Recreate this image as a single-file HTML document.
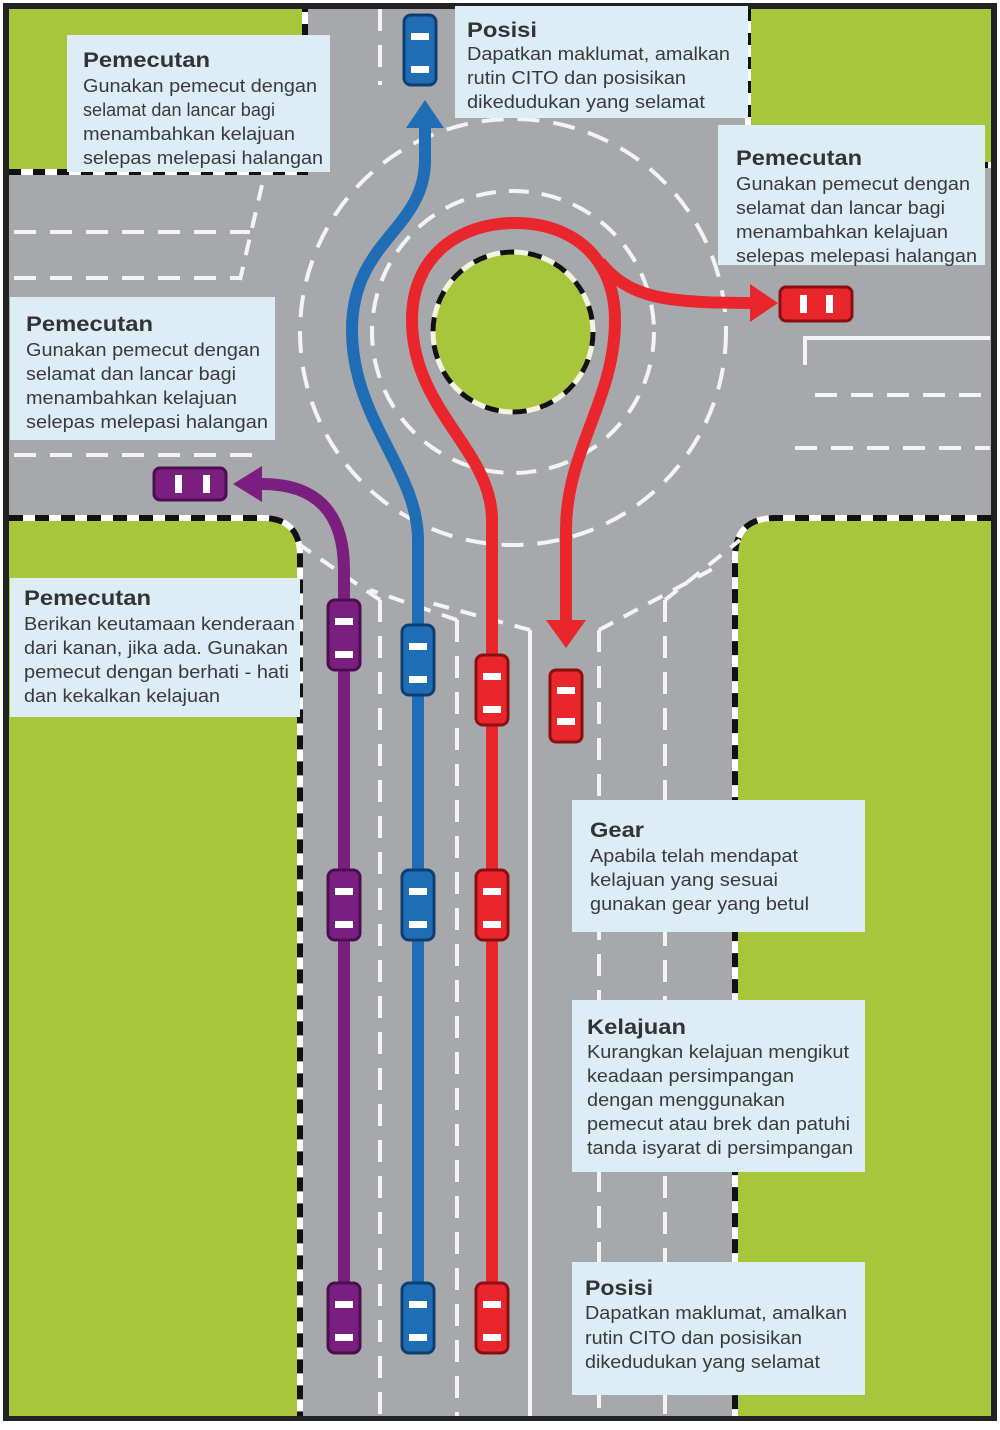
<!DOCTYPE html>
<html><head><meta charset="utf-8"><style>
html,body{margin:0;padding:0;background:#fff;}
svg{display:block;}
text{font-family:"Liberation Sans",sans-serif;fill:#3a3a3a;}
.h{font-weight:bold;font-size:21px;fill:#333;}
.b{font-size:18px;}
</style></head><body>
<svg width="1000" height="1430" viewBox="0 0 1000 1430" xmlns="http://www.w3.org/2000/svg">
<rect x="0" y="0" width="1000" height="1430" fill="#fff"/>
<rect x="3" y="3" width="994" height="1418" fill="#222"/>
<rect x="9" y="9" width="982" height="1407" fill="#a6a8ab"/>

<rect x="9" y="9" width="296" height="163" fill="#a8c63c"/>
<rect x="748" y="9" width="243" height="156" fill="#a8c63c"/>
<path d="M9 518 L262 518 Q300 518 300 556 L300 1416 L9 1416 Z" fill="#a8c63c"/>
<path d="M991 518 L775 518 Q735 518 735 558 L735 1416 L991 1416 Z" fill="#a8c63c"/>
<g fill="none" stroke-width="6">
 <path d="M9 172 L305 172 L305 9" stroke="#fff"/>
 <path d="M9 172 L305 172 L305 9" stroke="#111" stroke-dasharray="12 12"/>
 <path d="M9 518 L262 518 Q300 518 300 556 L300 1416" stroke="#fff"/>
 <path d="M9 518 L262 518 Q300 518 300 556 L300 1416" stroke="#111" stroke-dasharray="14 12"/>
 <path d="M991 518 L775 518 Q735 518 735 558 L735 1416" stroke="#fff"/>
 <path d="M991 518 L775 518 Q735 518 735 558 L735 1416" stroke="#111" stroke-dasharray="14 12"/>
 <path d="M748 9 L748 165 L991 165" stroke="#fff"/>
 <path d="M748 9 L748 165 L991 165" stroke="#111" stroke-dasharray="12 12"/>
</g>

<g fill="none" stroke="#f4f4f4" stroke-width="4">
 <circle cx="513" cy="332" r="141" stroke-dasharray="20 13"/>
 <circle cx="513" cy="332" r="213" stroke-dasharray="22 14"/>
 <path d="M14 232 L250 232" stroke-dasharray="22 14"/>
 <path d="M14 278 L240 278" stroke-dasharray="22 14"/>
 <path d="M14 455 L255 455" stroke-dasharray="22 14"/>
 <path d="M262 185 L240 280" stroke-dasharray="16 12"/>
 <path d="M815 395 L990 395" stroke-dasharray="22 14"/>
 <path d="M795 448 L990 448" stroke-dasharray="22 14"/>
 <path d="M805 365 L805 338 L990 338"/>
 <path d="M380 9 L380 85" stroke-dasharray="22 14"/>
 <path d="M380 600 L380 1416" stroke-dasharray="22 14"/>
 <path d="M457 620 L457 1416" stroke-dasharray="22 14"/>
 <path d="M530 630 L530 1416"/>
 <path d="M599 630 L599 1416" stroke-dasharray="22 14"/>
 <path d="M665 600 L665 1416" stroke-dasharray="22 14"/>
 <path d="M380 600 L300 545" stroke-dasharray="16 12"/>
 <path d="M457 620 L370 590" stroke-dasharray="16 12"/>
 <path d="M530 630 L420 600" stroke-dasharray="16 12"/>
 <path d="M599 630 L720 565" stroke-dasharray="16 12"/>
 <path d="M665 600 L740 540" stroke-dasharray="16 12"/>
</g>

<circle cx="513" cy="332" r="80" fill="#a8c63c"/>
<circle cx="513" cy="332" r="80" fill="none" stroke="#f4f4e0" stroke-width="5"/>
<circle cx="513" cy="332" r="80" fill="none" stroke="#111" stroke-width="5" stroke-dasharray="14 14"/>

<g fill="none" stroke-width="12">
 <path d="M344 1320 L344 570 Q344 484 262 484" stroke="#7a1f7f"/>
 <path d="M418 1320 L418 540 C418 470 352 420 352 330 C352 240 425 230 425 160 L425 120" stroke="#1e6db5"/>
 <path d="M492 1320 L492 520 C492 450 412 410 412 320 C412 255 460 223 515 223 C575 223 615 260 615 320 C615 400 566 450 566 530 L566 625" stroke="#e8262b"/>
 <path d="M600 262 C630 300 670 303 760 303" stroke="#e8262b"/>
</g>
<polygon points="233,484 262,466 262,502" fill="#7a1f7f"/>
<polygon points="425,100 406,128 444,128" fill="#1e6db5"/>
<polygon points="566,648 546,620 586,620" fill="#e8262b"/>
<polygon points="778,303 750,284 750,322" fill="#e8262b"/>

<g stroke-width="3">
 <g fill="#7a1f7f" stroke="#4a0f4f">
  <rect x="328" y="600" width="32" height="70" rx="7"/>
  <rect x="328" y="870" width="32" height="70" rx="7"/>
  <rect x="328" y="1283" width="32" height="70" rx="7"/>
 </g>
 <g fill="#1e6db5" stroke="#0f3f70">
  <rect x="402" y="625" width="32" height="70" rx="7"/>
  <rect x="402" y="870" width="32" height="70" rx="7"/>
  <rect x="402" y="1283" width="32" height="70" rx="7"/>
  <rect x="404" y="15" width="32" height="70" rx="7"/>
 </g>
 <g fill="#e8262b" stroke="#8a1010">
  <rect x="476" y="655" width="32" height="70" rx="7"/>
  <rect x="476" y="870" width="32" height="70" rx="7"/>
  <rect x="476" y="1283" width="32" height="70" rx="7"/>
  <rect x="550" y="670" width="32" height="72" rx="6"/>
 </g>
 <rect x="154" y="468" width="72" height="32" rx="6" fill="#7a1f7f" stroke="#4a0f4f"/>
 <rect x="780" y="287" width="72" height="34" rx="6" fill="#e8262b" stroke="#8a1010"/>
</g>
<g fill="#fff">
 <rect x="335" y="618" width="18" height="7"/><rect x="335" y="651" width="18" height="7"/>
 <rect x="335" y="888" width="18" height="7"/><rect x="335" y="921" width="18" height="7"/>
 <rect x="335" y="1301" width="18" height="7"/><rect x="335" y="1334" width="18" height="7"/>
 <rect x="409" y="643" width="18" height="7"/><rect x="409" y="676" width="18" height="7"/>
 <rect x="409" y="888" width="18" height="7"/><rect x="409" y="921" width="18" height="7"/>
 <rect x="409" y="1301" width="18" height="7"/><rect x="409" y="1334" width="18" height="7"/>
 <rect x="411" y="33" width="18" height="7"/><rect x="411" y="66" width="18" height="7"/>
 <rect x="483" y="673" width="18" height="7"/><rect x="483" y="706" width="18" height="7"/>
 <rect x="483" y="888" width="18" height="7"/><rect x="483" y="921" width="18" height="7"/>
 <rect x="483" y="1301" width="18" height="7"/><rect x="483" y="1334" width="18" height="7"/>
 <rect x="557" y="687" width="18" height="7"/><rect x="557" y="718" width="18" height="7"/>
 <rect x="175" y="475" width="7" height="18"/><rect x="203" y="475" width="7" height="18"/>
 <rect x="800" y="295" width="7" height="18"/><rect x="826" y="295" width="7" height="18"/>
</g>

<g fill="#dcedf6">
 <rect x="67" y="35" width="263" height="137"/>
 <rect x="455" y="6" width="293" height="112"/>
 <rect x="718" y="125" width="267" height="140"/>
 <rect x="10" y="297" width="265" height="143"/>
 <rect x="10" y="578" width="290" height="139"/>
 <rect x="572" y="800" width="293" height="132"/>
 <rect x="572" y="1000" width="293" height="172"/>
 <rect x="572" y="1262" width="293" height="133"/>
</g>
<g lengthAdjust="spacingAndGlyphs">
<text class="h" x="83" y="67" textLength="127" lengthAdjust="spacingAndGlyphs">Pemecutan</text>
<text class="b" x="83" y="92" textLength="234" lengthAdjust="spacingAndGlyphs">Gunakan pemecut dengan</text>
<text class="b" x="83" y="116" textLength="192" lengthAdjust="spacingAndGlyphs">selamat dan lancar bagi</text>
<text class="b" x="83" y="140" textLength="212" lengthAdjust="spacingAndGlyphs">menambahkan kelajuan</text>
<text class="b" x="83" y="164" textLength="240" lengthAdjust="spacingAndGlyphs">selepas melepasi halangan</text>

<text class="h" x="467" y="37" textLength="70" lengthAdjust="spacingAndGlyphs">Posisi</text>
<text class="b" x="467" y="60" textLength="263" lengthAdjust="spacingAndGlyphs">Dapatkan maklumat, amalkan</text>
<text class="b" x="467" y="84" textLength="219" lengthAdjust="spacingAndGlyphs">rutin CITO dan posisikan</text>
<text class="b" x="467" y="108" textLength="238" lengthAdjust="spacingAndGlyphs">dikedudukan yang selamat</text>

<text class="h" x="736" y="165" textLength="126" lengthAdjust="spacingAndGlyphs">Pemecutan</text>
<text class="b" x="736" y="190" textLength="234" lengthAdjust="spacingAndGlyphs">Gunakan pemecut dengan</text>
<text class="b" x="736" y="214" textLength="209" lengthAdjust="spacingAndGlyphs">selamat dan lancar bagi</text>
<text class="b" x="736" y="238" textLength="212" lengthAdjust="spacingAndGlyphs">menambahkan kelajuan</text>
<text class="b" x="736" y="262" textLength="241" lengthAdjust="spacingAndGlyphs">selepas melepasi halangan</text>

<text class="h" x="26" y="331" textLength="127" lengthAdjust="spacingAndGlyphs">Pemecutan</text>
<text class="b" x="26" y="356" textLength="234" lengthAdjust="spacingAndGlyphs">Gunakan pemecut dengan</text>
<text class="b" x="26" y="380" textLength="210" lengthAdjust="spacingAndGlyphs">selamat dan lancar bagi</text>
<text class="b" x="26" y="404" textLength="211" lengthAdjust="spacingAndGlyphs">menambahkan kelajuan</text>
<text class="b" x="26" y="428" textLength="242" lengthAdjust="spacingAndGlyphs">selepas melepasi halangan</text>

<text class="h" x="24" y="605" textLength="127" lengthAdjust="spacingAndGlyphs">Pemecutan</text>
<text class="b" x="24" y="630" textLength="271" lengthAdjust="spacingAndGlyphs">Berikan keutamaan kenderaan</text>
<text class="b" x="24" y="654" textLength="264" lengthAdjust="spacingAndGlyphs">dari kanan, jika ada. Gunakan</text>
<text class="b" x="24" y="678" textLength="265" lengthAdjust="spacingAndGlyphs">pemecut dengan berhati - hati</text>
<text class="b" x="24" y="702" textLength="196" lengthAdjust="spacingAndGlyphs">dan kekalkan kelajuan</text>

<text class="h" x="590" y="837" textLength="54" lengthAdjust="spacingAndGlyphs">Gear</text>
<text class="b" x="590" y="862" textLength="208" lengthAdjust="spacingAndGlyphs">Apabila telah mendapat</text>
<text class="b" x="590" y="886" textLength="188" lengthAdjust="spacingAndGlyphs">kelajuan yang sesuai</text>
<text class="b" x="590" y="910" textLength="219" lengthAdjust="spacingAndGlyphs">gunakan gear yang betul</text>

<text class="h" x="587" y="1034" textLength="99" lengthAdjust="spacingAndGlyphs">Kelajuan</text>
<text class="b" x="587" y="1058" textLength="262" lengthAdjust="spacingAndGlyphs">Kurangkan kelajuan mengikut</text>
<text class="b" x="587" y="1082" textLength="207" lengthAdjust="spacingAndGlyphs">keadaan persimpangan</text>
<text class="b" x="587" y="1106" textLength="198" lengthAdjust="spacingAndGlyphs">dengan menggunakan</text>
<text class="b" x="587" y="1130" textLength="263" lengthAdjust="spacingAndGlyphs">pemecut atau brek dan patuhi</text>
<text class="b" x="587" y="1154" textLength="266" lengthAdjust="spacingAndGlyphs">tanda isyarat di persimpangan</text>

<text class="h" x="585" y="1295" textLength="68" lengthAdjust="spacingAndGlyphs">Posisi</text>
<text class="b" x="585" y="1319" textLength="262" lengthAdjust="spacingAndGlyphs">Dapatkan maklumat, amalkan</text>
<text class="b" x="585" y="1344" textLength="217" lengthAdjust="spacingAndGlyphs">rutin CITO dan posisikan</text>
<text class="b" x="585" y="1368" textLength="235" lengthAdjust="spacingAndGlyphs">dikedudukan yang selamat</text>
</g>
</svg>
</body></html>
